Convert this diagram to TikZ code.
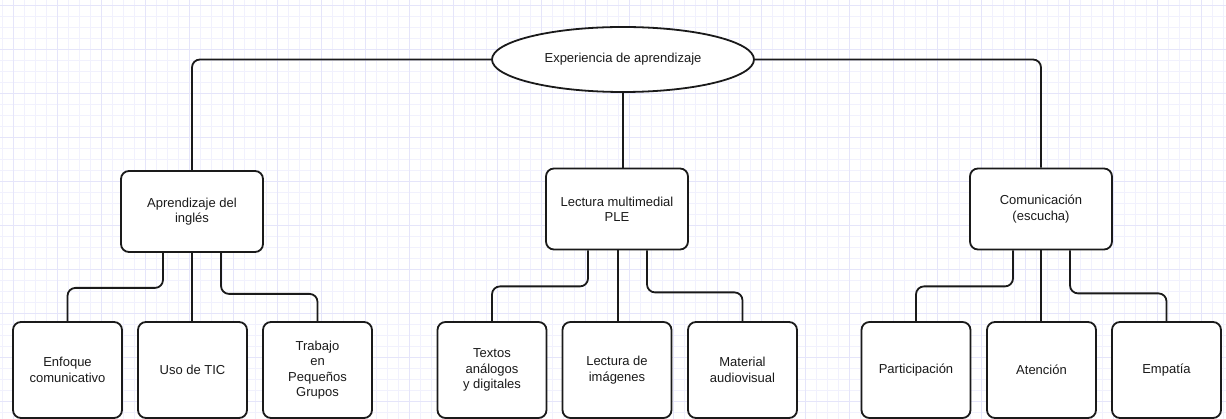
\documentclass[tikz,border=0pt]{standalone}
\usepackage{fontspec}
\setmainfont{Liberation Sans}
\usetikzlibrary{shapes.geometric}
\definecolor{gridminor}{RGB}{241,241,253}
\definecolor{gridmajor}{RGB}{229,229,250}
\definecolor{ink}{RGB}{26,26,26}
\begin{document}
\begin{tikzpicture}[x=1pt,y=-1pt,
  box/.style={draw=ink, line width=1.8pt, rounded corners=8pt, fill=white, align=center,
    inner sep=0pt, font=\fontsize{13}{15.4}\selectfont, text=ink},
  topbox/.style={box, minimum width=142pt, minimum height=81pt},
  leaf/.style={box, minimum width=109pt, minimum height=96pt},
  conn/.style={draw=ink, line width=1.8pt, rounded corners=8pt}]
\useasboundingbox (0,0) rectangle (1226,419);
\fill[white] (0,0) rectangle (1226,419);
\foreach \x in {2,13,...,1226} \draw[gridminor, line width=0.8pt] (\x,0) -- (\x,419);
\foreach \y in {5,16,...,419} \draw[gridminor, line width=0.8pt] (0,\y) -- (1226,\y);
\foreach \x in {13,57,...,1226} \draw[gridmajor, line width=0.8pt] (\x,0) -- (\x,419);
\foreach \y in {5,49,...,419} \draw[gridmajor, line width=0.8pt] (0,\y) -- (1226,\y);

\node[ellipse, draw=ink, line width=1.8pt, fill=white, minimum width=262pt, minimum height=65pt,
  inner sep=0pt, font=\fontsize{13}{15.4}\selectfont, text=ink] (e) at (623,59.5) {Experiencia de aprendizaje};

\node[topbox] (b1) at (192,211.5) {Aprendizaje del\\inglés};
\node[topbox] (b2) at (617,209) {Lectura multimedial\\PLE};
\node[topbox] (b3) at (1041,209) {Comunicación\\(escucha)};

\node[leaf] (c11) at (67.5,370) {Enfoque\\comunicativo};
\node[leaf] (c12) at (192.5,370) {Uso de TIC};
\node[leaf] (c13) at (317.5,370) {Trabajo\\en\\Pequeños\\Grupos};
\node[leaf] (c21) at (492,370) {Textos\\análogos\\y digitales};
\node[leaf] (c22) at (617,370) {Lectura de\\imágenes};
\node[leaf] (c23) at (742.5,370) {Material\\audiovisual};
\node[leaf] (c31) at (916,370) {Participación};
\node[leaf] (c32) at (1041.5,370) {Atención};
\node[leaf] (c33) at (1166.5,370) {Empatía};

\draw[conn] (e.west) -| (b1.north);
\draw[conn] (e.east) -| (b3.north);
\draw[conn] (e.south) -- (e.south |- b2.north);

\draw[conn] ([xshift=-29pt]b1.south) -- ++(0,35) -| (c11.north);
\draw[conn] (b1.south) -- (b1.south |- c12.north);
\draw[conn] ([xshift=29pt]b1.south) -- ++(0,41) -| (c13.north);

\draw[conn] ([xshift=-29pt]b2.south) -- ++(0,36) -| (c21.north);
\draw[conn] ([xshift=1pt]b2.south) -- ([xshift=1pt]b2.south |- c22.north);
\draw[conn] ([xshift=30pt]b2.south) -- ++(0,42) -| (c23.north);

\draw[conn] ([xshift=-28pt]b3.south) -- ++(0,36) -| (c31.north);
\draw[conn] (b3.south) -- (b3.south |- c32.north);
\draw[conn] ([xshift=29pt]b3.south) -- ++(0,43) -| (c33.north);
\end{tikzpicture}
\end{document}
